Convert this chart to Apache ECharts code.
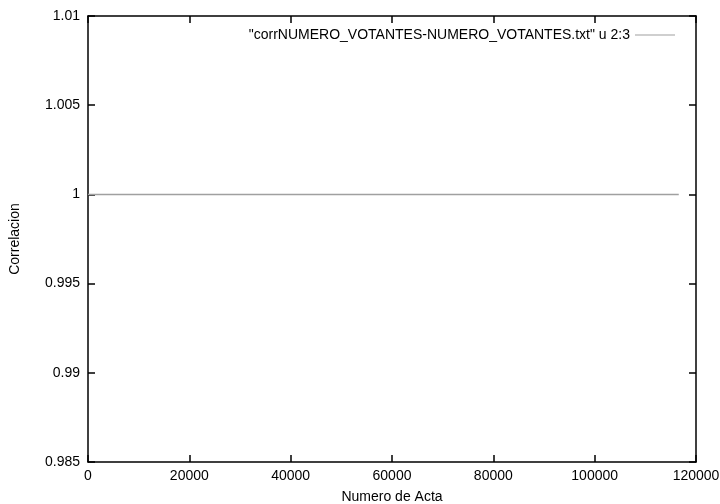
<!DOCTYPE html>
<html>
<head>
<meta charset="utf-8">
<script src="https://cdn.jsdelivr.net/npm/echarts@6/dist/echarts.min.js"></script>
<style>html,body{margin:0;padding:0;background:#fff}#c{width:720px;height:504px}</style>
</head>
<body>
<div id="c"></div>
<script>
var seriesName = '"corrNUMERO_VOTANTES-NUMERO_VOTANTES.txt" u 2:3';
var actaNumbers = [0, 10000, 20000, 30000, 40000, 50000, 60000, 70000, 80000, 90000, 100000, 110000, 116600];
var correlation = [1, 1, 1, 1, 1, 1, 1, 1, 1, 1, 1, 1, 1];
var xTicks = [0, 20000, 40000, 60000, 80000, 100000, 120000];
var yTicks = ['0.985', '0.99', '0.995', '1', '1.005', '1.01'];

var font = 'Liberation Sans, Arial, Helvetica, sans-serif';
var chart = echarts.init(document.getElementById('c'));
var points = actaNumbers.map(function (x, i) { return [x, correlation[i]]; });
function yFmt(v) { return String(parseFloat(v.toFixed(3))); }
function xFmt(v) { return String(v); }
var axisLine = { show: true, onZero: false, lineStyle: { color: '#000', width: 1.5 } };
var tick = { show: true, inside: true, length: 7, lineStyle: { color: '#000', width: 1.5 } };
chart.setOption({
  animation: false,
  backgroundColor: '#fff',
  grid: { left: 88, right: 24, top: 16, bottom: 42, containLabel: false, outerBoundsMode: 'none' },
  legend: {
    right: 40, top: 23,
    align: 'right',
    itemWidth: 40, itemHeight: 14, itemGap: 8,
    icon: 'path://M0,6.5 L40,6.5 L40,7.5 L0,7.5 Z',
    textStyle: { fontFamily: font, fontSize: 14, color: '#000' },
    data: [seriesName]
  },
  xAxis: [{
    type: 'value', min: xTicks[0], max: xTicks[xTicks.length - 1], interval: 20000,
    name: 'Numero de Acta', nameLocation: 'middle', nameGap: 28,
    nameTextStyle: { fontFamily: font, fontSize: 14, color: '#000' },
    axisLine: axisLine, axisTick: tick,
    axisLabel: { fontFamily: font, fontSize: 14, color: '#000', margin: 7, formatter: xFmt },
    splitLine: { show: false }
  }, {
    type: 'value', position: 'top', min: xTicks[0], max: xTicks[xTicks.length - 1], interval: 20000,
    axisLine: axisLine, axisTick: tick,
    axisLabel: { show: false }, splitLine: { show: false }
  }],
  yAxis: [{
    type: 'value', min: 0.985, max: 1.01, interval: 0.005,
    name: 'Correlacion', nameLocation: 'middle', nameGap: 66, nameRotate: 90,
    nameTextStyle: { fontFamily: font, fontSize: 14, color: '#000' },
    axisLine: axisLine, axisTick: tick,
    axisLabel: { fontFamily: font, fontSize: 14, color: '#000', margin: 8, formatter: yFmt },
    splitLine: { show: false }
  }, {
    type: 'value', position: 'right', min: 0.985, max: 1.01, interval: 0.005,
    axisLine: axisLine, axisTick: tick,
    axisLabel: { show: false }, splitLine: { show: false }
  }],
  series: [{
    name: seriesName, type: 'line', data: points,
    showSymbol: false, symbol: 'none',
    lineStyle: { color: '#a0a0a0', width: 1.5 },
    itemStyle: { color: '#a0a0a0' }
  }]
});
</script>
</body>
</html>
